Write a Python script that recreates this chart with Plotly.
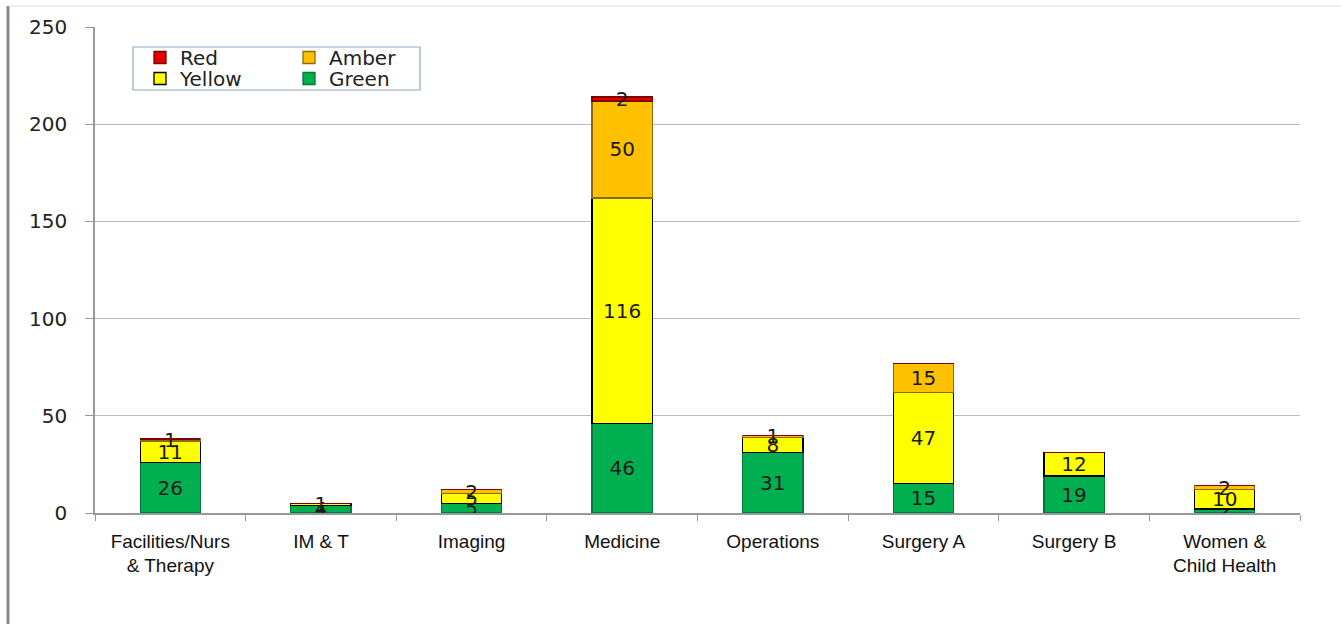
import plotly.graph_objects as go

categories = ["Facilities/Nurs<br>& Therapy", "IM & T", "Imaging", "Medicine",
              "Operations", "Surgery A", "Surgery B", "Women &<br>Child Health"]
green = [26, 4, 5, 46, 31, 15, 19, 2]
yellow = [11, 1, 5, 116, 8, 47, 12, 10]
amber = [1, 0, 2, 50, 1, 15, 0, 2]
red = [0, 0, 0, 2, 0, 0, 0, 0]

W, H = 1341, 624
L, R, T, B = 95, 41, 27, 111

def labels(vals):
    return [str(v) if v else "" for v in vals]

fig = go.Figure()
series = [
    ("Green", green, "#00B050", "#007a38", "legend2"),
    ("Yellow", yellow, "#FFFF00", "#000000", "legend2"),
    ("Amber", amber, "#FFC000", "#8a6a10", "legend"),
    ("Red", red, "#E00000", "#800000", "legend"),
]
for name, vals, col, line, lg in series:
    fig.add_trace(go.Bar(
        x=categories, y=vals, name=name,
        marker=dict(color=col, line=dict(color=line, width=1.3)),
        text=labels(vals), textposition="inside", insidetextanchor="middle",
        textangle=0,
        textfont=dict(family="DejaVu Sans", size=20, color="#1a1a1a"),
        legend=lg,
    ))

pw = W - L - R
ph = H - T - B
def px_x(x):
    return (x - L) / pw
def px_y(y):
    return (H - B - y) / ph

legend_common = dict(orientation="h", xanchor="left", yanchor="top",
                     traceorder="reversed", entrywidth=104, entrywidthmode="pixels",
                     font=dict(family="DejaVu Sans", size=20, color="#222"),
                     bgcolor="rgba(0,0,0,0)", itemwidth=30, tracegroupgap=0)

fig.update_layout(
    width=W, height=H,
    margin=dict(l=L, r=R, t=T, b=B),
    barmode="stack", bargap=0.6,
    plot_bgcolor="white", paper_bgcolor="white",
    uniformtext=dict(minsize=20, mode="show"),
    font=dict(family="DejaVu Sans", color="#222"),
    showlegend=True,
    legend=dict(x=px_x(140), y=px_y(38), **legend_common),
    legend2=dict(x=px_x(140), y=px_y(59), **legend_common),
    xaxis=dict(showline=True, linecolor="#999", linewidth=1.5, ticks="outside",
               tickson="boundaries", ticklen=6, tickcolor="#999",
               ticklabelstandoff=10,
               tickfont=dict(family="Liberation Sans Narrow, Liberation Sans", size=19, color="#111"),
               showgrid=False),
    yaxis=dict(range=[0, 250], dtick=50, showline=True, linecolor="#999", linewidth=1.5,
               ticks="outside", ticklen=8, tickcolor="#999",
               ticklabelstandoff=14,
               gridcolor="#BBBBBB", gridwidth=1,
               tickfont=dict(family="DejaVu Sans", size=20, color="#222"), zeroline=False),
    shapes=[
        dict(type="rect", xref="paper", yref="paper",
             x0=px_x(133), x1=px_x(420), y0=px_y(47), y1=px_y(90),
             line=dict(color="#8FA8C8", width=1.2), fillcolor="rgba(0,0,0,0)", layer="above"),
        dict(type="line", xref="paper", yref="paper",
             x0=px_x(8), x1=px_x(8), y0=px_y(6), y1=px_y(624),
             line=dict(color="#888", width=3)),
        dict(type="line", xref="paper", yref="paper",
             x0=px_x(8), x1=px_x(1341), y0=px_y(6), y1=px_y(6),
             line=dict(color="#ddd", width=1)),
    ],
)

fig.write_html("out.html")
